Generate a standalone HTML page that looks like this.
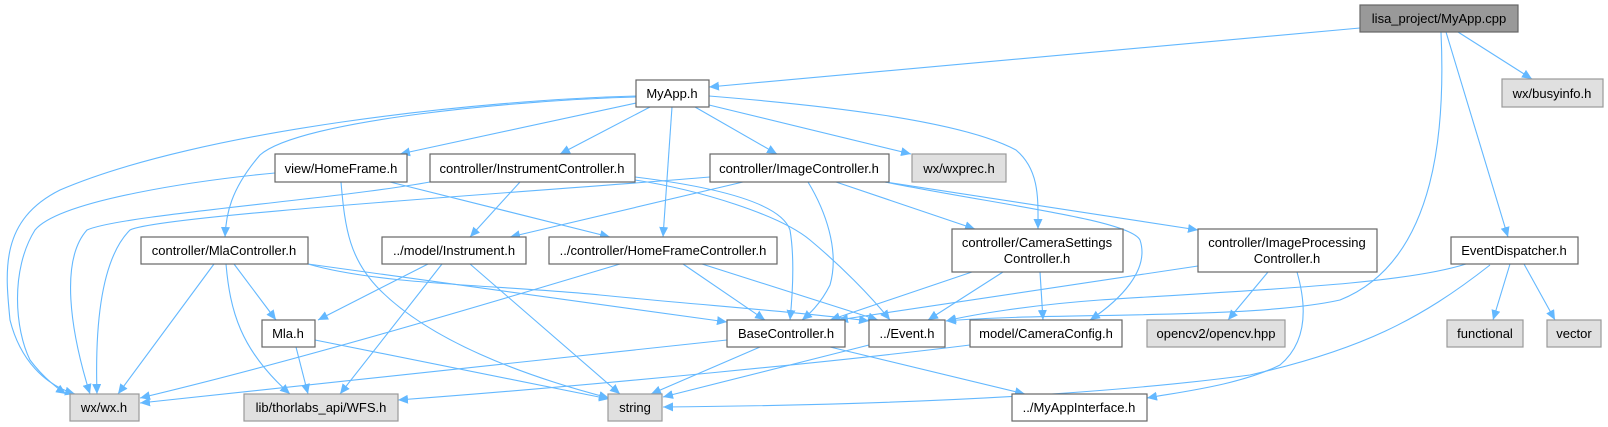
<!DOCTYPE html>
<html><head><meta charset="utf-8"><style>
html,body{margin:0;padding:0;background:#fff;}
svg{display:block;}
text{font-family:"Liberation Sans",Arial,sans-serif;font-size:13px;fill:#000;text-anchor:middle;}
.n{fill:#fff;stroke:#666;stroke-width:1.2;}
.g{fill:#e0e0e0;stroke:#999;stroke-width:1.2;}
.r{fill:#999;stroke:#666;stroke-width:1.2;}
.e{fill:none;stroke:#63b8ff;stroke-width:1.1;marker-end:url(#a);}
</style></head><body>
<svg width="1608" height="427" viewBox="0 0 1608 427" xmlns="http://www.w3.org/2000/svg">
<defs><marker id="a" markerUnits="userSpaceOnUse" markerWidth="11" markerHeight="9" refX="10" refY="4.5" orient="auto"><path d="M0,0 L10,4.5 L0,9 z" fill="#63b8ff"/></marker></defs>
<g>
<path class="e" d="M1360,28 L709,87"/>
<path class="e" d="M1458,32 L1532,79"/>
<path class="e" d="M1446,32 L1508,237"/>
<path class="e" d="M1441,32 C1445,120 1440,260 1340,300 C1250,320 1050,312 946,321"/>
<path class="e" d="M636,96 C480,100 200,130 60,190 C0,220 5,270 10,320 C20,360 45,385 75,394"/>
<path class="e" d="M636,97 C520,100 300,120 260,155 C230,190 226,215 225,237"/>
<path class="e" d="M636,103 L400,154"/>
<path class="e" d="M650,107 L560,154"/>
<path class="e" d="M672,107 L663,237"/>
<path class="e" d="M695,107 L777,154"/>
<path class="e" d="M709,105 L911,154"/>
<path class="e" d="M709,96 C820,105 960,120 1016,150 C1040,170 1038,200 1038,229"/>
<path class="e" d="M275,173 C200,180 60,200 35,230 C10,270 15,330 30,360 C45,380 60,390 66,394"/>
<path class="e" d="M341,182 C345,230 350,260 380,290 C430,340 520,375 609,398"/>
<path class="e" d="M390,182 L610,237"/>
<path class="e" d="M430,182 C330,200 120,215 87,230 C60,260 70,330 90,394"/>
<path class="e" d="M520,182 L470,237"/>
<path class="e" d="M635,177 C700,185 780,200 790,230 C795,260 792,300 790,320"/>
<path class="e" d="M635,180 C700,190 780,215 810,240 C840,265 870,295 890,320"/>
<path class="e" d="M710,177 C560,190 160,215 130,230 C100,260 95,330 97,394"/>
<path class="e" d="M743,182 L510,237"/>
<path class="e" d="M808,182 C825,210 840,250 830,285 C820,305 808,315 802,320"/>
<path class="e" d="M836,182 L975,229"/>
<path class="e" d="M885,182 L1198,230"/>
<path class="e" d="M885,182 C1000,205 1130,220 1140,240 C1150,270 1120,300 1090,320"/>
<path class="e" d="M214,264 L118,394"/>
<path class="e" d="M226,264 C230,310 240,350 290,394"/>
<path class="e" d="M234,264 L276,320"/>
<path class="e" d="M308,264 L727,322"/>
<path class="e" d="M308,264 C380,285 500,285 600,295 C700,305 800,312 869,321"/>
<path class="e" d="M428,264 L318,320"/>
<path class="e" d="M442,264 L340,394"/>
<path class="e" d="M470,264 L620,394"/>
<path class="e" d="M620,264 C500,300 300,360 140,398"/>
<path class="e" d="M683,264 L765,320"/>
<path class="e" d="M702,264 L878,320"/>
<path class="e" d="M972,272 L830,320"/>
<path class="e" d="M1003,272 L928,320"/>
<path class="e" d="M1040,272 L1043,320"/>
<path class="e" d="M1198,266 L838,320"/>
<path class="e" d="M1268,272 L1228,320"/>
<path class="e" d="M1297,272 C1305,300 1310,340 1280,365 C1240,385 1180,392 1147,398"/>
<path class="e" d="M1466,264 C1400,285 1250,290 1100,300 C1030,305 970,315 946,321"/>
<path class="e" d="M1490,265 C1420,320 1360,350 1250,375 C1100,395 900,405 663,407"/>
<path class="e" d="M1510,264 L1493,320"/>
<path class="e" d="M1524,264 L1555,320"/>
<path class="e" d="M296,347 L308,394"/>
<path class="e" d="M315,340 L609,399"/>
<path class="e" d="M727,340 L140,403"/>
<path class="e" d="M760,347 L651,394"/>
<path class="e" d="M830,347 L1025,394"/>
<path class="e" d="M869,345 L663,397"/>
<path class="e" d="M970,345 C850,360 600,385 398,400"/>
</g>
<g>
<rect class="r" x="1360" y="5" width="158" height="27"/><text x="1439" y="23">lisa_project/MyApp.cpp</text>
<rect class="g" x="1502" y="79" width="101" height="28"/><text x="1552" y="98">wx/busyinfo.h</text>
<rect class="n" x="636" y="80" width="73" height="27"/><text x="672" y="98">MyApp.h</text>
<rect class="n" x="275" y="154" width="132" height="28"/><text x="341" y="173">view/HomeFrame.h</text>
<rect class="n" x="430" y="154" width="205" height="28"/><text x="532" y="173">controller/InstrumentController.h</text>
<rect class="n" x="710" y="154" width="179" height="28"/><text x="799" y="173">controller/ImageController.h</text>
<rect class="g" x="912" y="154" width="94" height="28"/><text x="959" y="173">wx/wxprec.h</text>
<rect class="n" x="141" y="237" width="167" height="27"/><text x="224" y="255">controller/MlaController.h</text>
<rect class="n" x="382" y="237" width="144" height="27"/><text x="454" y="255">../model/Instrument.h</text>
<rect class="n" x="549" y="237" width="228" height="27"/><text x="663" y="255">../controller/HomeFrameController.h</text>
<rect class="n" x="952" y="229" width="171" height="43"/><text x="1037" y="247">controller/CameraSettings</text><text x="1037" y="263">Controller.h</text>
<rect class="n" x="1198" y="229" width="179" height="43"/><text x="1287" y="247">controller/ImageProcessing</text><text x="1287" y="263">Controller.h</text>
<rect class="n" x="1451" y="237" width="127" height="27"/><text x="1514" y="255">EventDispatcher.h</text>
<rect class="n" x="262" y="320" width="53" height="27"/><text x="288" y="338">Mla.h</text>
<rect class="n" x="727" y="320" width="118" height="27"/><text x="786" y="338">BaseController.h</text>
<rect class="n" x="869" y="320" width="76" height="27"/><text x="907" y="338">../Event.h</text>
<rect class="n" x="970" y="320" width="152" height="27"/><text x="1046" y="338">model/CameraConfig.h</text>
<rect class="g" x="1147" y="320" width="138" height="27"/><text x="1216" y="338">opencv2/opencv.hpp</text>
<rect class="g" x="1447" y="320" width="76" height="27"/><text x="1485" y="338">functional</text>
<rect class="g" x="1547" y="320" width="54" height="27"/><text x="1574" y="338">vector</text>
<rect class="g" x="70" y="394" width="69" height="27"/><text x="104" y="412">wx/wx.h</text>
<rect class="g" x="244" y="394" width="154" height="27"/><text x="321" y="412">lib/thorlabs_api/WFS.h</text>
<rect class="g" x="608" y="394" width="54" height="27"/><text x="635" y="412">string</text>
<rect class="n" x="1012" y="394" width="135" height="27"/><text x="1079" y="412">../MyAppInterface.h</text>
</g>
</svg>
</body></html>
